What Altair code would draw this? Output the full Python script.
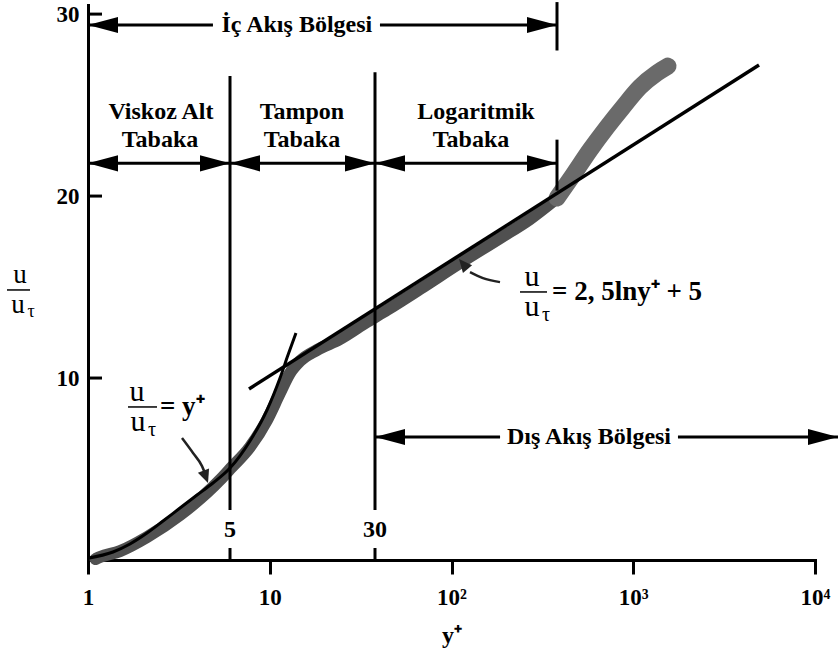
import altair as alt
import pandas as pd

# ---------------- axes ----------------
X_DOMAIN = [1, 10000]
Y_DOMAIN = [0, 30.5]
x_tick_values = [1, 10, 100, 1000, 10000]
x_tick_labels = ['1', '10', '10²', '10³', '10⁴']
y_tick_values = [10, 20, 30]

# ---------------- measured scatter band (y+, u/u_tau) ----------------
band_lo_x = [1.10, 1.164, 1.500, 2.112, 3.208, 5.325, 6.044, 7.786, 9.658, 11.39, 12.92, 14.67,
             18.20, 24.35, 34.29, 44.17, 67.09, 111.4, 184.9, 270.4, 380.6]
band_lo_y = [0.05, 0.16, 0.49, 1.26, 2.47, 4.40, 5.00, 6.21, 7.69, 9.18, 10.27, 10.93,
             11.54, 12.14, 13.08, 13.74, 14.89, 16.32, 17.69, 18.74, 19.89]
band_hi_x = [380.6, 466.1, 578.1, 717.2, 878.2, 1089, 1351, 1553]
band_hi_y = [19.89, 21.15, 22.53, 23.79, 24.89, 25.99, 26.76, 27.14]

# viscous sublayer curve  u/u_tau = y+
lin_x = [1.0, 1.373, 1.702, 2.112, 2.587, 3.208, 3.979, 4.873, 6.044, 7.786, 9.658, 11.39, 12.60, 13.94]
lin_y = [0.10, 0.44, 0.88, 1.48, 2.14, 2.86, 3.57, 4.23, 5.05, 6.54, 8.24, 10.0, 11.26, 12.47]

# log law line  u/u_tau = 2,5 ln y+ + 5
log_x = [7.69, 4920]
log_y = [9.40, 27.2]

# region boundaries (vertical lines)
vline_x = [6.044, 37.94, 380.6, 380.6, 6.044, 37.94]
vline_y1 = [2.75, 2.75, 28.0, 20.3, 0.0, 0.0]
vline_y2 = [26.6, 26.8, 30.66, 23.1, 0.66, 0.66]

# arrow shafts
shaft_x1 = [1, 40.4, 1, 37.94, 1762]
shaft_x2 = [4.87, 380.6, 380.6, 185, 13382]
shaft_y = [29.4, 29.4, 21.8, 6.76, 6.76]

# arrow heads
head_x = [1, 380.6, 1, 6.044, 6.044, 37.94, 37.94, 380.6, 37.94, 13382]
head_y = [29.4, 29.4, 21.8, 21.8, 21.8, 21.8, 21.8, 21.8, 6.76, 6.76]
head_angle = [180, 0, 180, 0, 180, 0, 180, 0, 180, 0]

# region labels
label_text = ['İç Akış Bölgesi', 'Viskoz Alt', 'Tabaka', 'Tampon', 'Tabaka', 'Logaritmik', 'Tabaka',
              'Dış Akış Bölgesi', '5', '30']
label_x = [14.1, 2.52, 2.49, 15.04, 15.04, 136.4, 128.1, 571, 6.044, 37.94]
label_y = [29.4, 24.6, 23.08, 24.6, 23.08, 24.6, 23.08, 6.76, 1.65, 1.65]

# fraction parts u / u_tau
math_text = ['u', 'u', 'τ', 'u', 'u', 'τ', 'u', 'u', 'τ']
math_x = [0.4225, 0.4120, 0.4858, 1.861, 1.884, 2.249, 277.3, 277.3, 331.1]
math_y = [15.66, 14.04, 13.64, 9.24, 7.56, 7.12, 15.55, 13.90, 13.45]
math_size = [27, 27, 18, 30, 30, 20, 30, 30, 20]
fbar_x1 = [0.3583, 1.660, 238.2]
fbar_x2 = [0.4797, 2.397, 335.3]
fbar_y = [14.84, 8.41, 14.73]

eq_text = ['= y⁺', '= 2, 5lny⁺ + 5']
eq_x = [2.489, 357.2]
eq_y = [8.41, 14.73]

# curved pointer arrows
ptr1_x = [3.290, 3.783, 4.240, 4.460]
ptr1_y = [6.70, 5.88, 5.16, 4.62]
ptr2_x = [184.9, 149.0, 126.4]
ptr2_y = [15.27, 15.49, 15.82]
ptr_head_x = [4.574, 110.0]
ptr_head_y = [4.23, 16.54]
ptr_head_angle = [70, 230]

# ---------------- chart ----------------
FONT = 'Liberation Serif'
HEAD_BIG = 'M0,0 L-1,-0.27 L-1,0.27 Z'
HEAD_SMALL = 'M0,0 L-1,-0.45 L-1,0.45 Z'

XS = alt.Scale(type='log', domain=X_DOMAIN, nice=False)
YS = alt.Scale(domain=Y_DOMAIN, nice=False, zero=False)

label_expr = ''.join(f"datum.value == {v} ? '{l}' : " for v, l in zip(x_tick_values, x_tick_labels)) + "''"

x_axis = alt.Axis(values=x_tick_values, labelExpr=label_expr, title='y⁺', grid=False,
                  domainColor='black', domainWidth=3, domainCap='square',
                  tickColor='black', tickWidth=3, tickSize=14,
                  labelFont=FONT, labelFontWeight='bold', labelFontSize=23, labelColor='black',
                  labelPadding=12, labelFlush=False,
                  titleFont=FONT, titleFontWeight='bold', titleFontSize=24, titleColor='black',
                  titlePadding=14)
y_axis = alt.Axis(values=y_tick_values, title=None, grid=False, ticks=False, tickSize=0,
                  domainColor='black', domainWidth=3, domainCap='square',
                  labelFont=FONT, labelFontWeight='bold', labelFontSize=23, labelColor='black',
                  labelPadding=9, labelFlush=False)


def xe(f='x'):
    return alt.X(f + ':Q', scale=XS, axis=x_axis)


def ye(f='y'):
    return alt.Y(f + ':Q', scale=YS, axis=y_axis)


band_lo = alt.Chart(pd.DataFrame({'x': band_lo_x, 'y': band_lo_y})).mark_line(
    color='#505050', strokeWidth=12, strokeCap='round', strokeJoin='round', interpolate='monotone'
).encode(x=xe(), y=ye())
band_hi = alt.Chart(pd.DataFrame({'x': band_hi_x, 'y': band_hi_y})).mark_line(
    color='#6a6a6a', strokeWidth=17, strokeCap='round', strokeJoin='round', interpolate='monotone'
).encode(x=xe(), y=ye())

lin = alt.Chart(pd.DataFrame({'x': lin_x, 'y': lin_y})).mark_line(
    color='black', strokeWidth=3, interpolate='monotone'
).encode(x=xe(), y=ye())

loglaw = alt.Chart(pd.DataFrame({'x': log_x, 'y': log_y})).mark_line(
    color='black', strokeWidth=3.5
).encode(x=xe(), y=ye())

vrules = alt.Chart(pd.DataFrame({'x': vline_x, 'y': vline_y1, 'y2': vline_y2})).mark_rule(
    color='black', strokeWidth=3
).encode(x=xe(), y=ye(), y2='y2:Q')

shafts = alt.Chart(pd.DataFrame({'x': shaft_x1, 'x2': shaft_x2, 'y': shaft_y})).mark_rule(
    color='black', strokeWidth=3
).encode(x=xe(), x2='x2:Q', y=ye())

yticks = alt.Chart(pd.DataFrame({'y': y_tick_values})).mark_rule(
    color='black', strokeWidth=3
).encode(x=alt.value(0), x2=alt.value(14), y=ye())

heads = alt.Chart(pd.DataFrame({'x': head_x, 'y': head_y, 'a': head_angle})).mark_point(
    shape=HEAD_BIG, filled=True, size=3600, color='black', opacity=1, strokeWidth=0
).encode(x=xe(), y=ye(), angle=alt.Angle('a:Q', scale=None))

labels = alt.Chart(pd.DataFrame({'x': label_x, 'y': label_y, 't': label_text})).mark_text(
    font=FONT, fontWeight='bold', fontSize=24, align='center', baseline='middle', color='black'
).encode(x=xe(), y=ye(), text='t:N')

maths = alt.Chart(pd.DataFrame({'x': math_x, 'y': math_y, 't': math_text, 's': math_size})).mark_text(
    font=FONT, align='center', baseline='middle', color='black'
).encode(x=xe(), y=ye(), text='t:N', size=alt.Size('s:Q', scale=None))

fbars = alt.Chart(pd.DataFrame({'x': fbar_x1, 'x2': fbar_x2, 'y': fbar_y})).mark_rule(
    color='black', strokeWidth=1.5
).encode(x=xe(), x2='x2:Q', y=ye())

eqs = alt.Chart(pd.DataFrame({'x': eq_x, 'y': eq_y, 't': eq_text})).mark_text(
    font=FONT, fontWeight='bold', fontSize=27, align='left', baseline='middle', color='black'
).encode(x=xe(), y=ye(), text='t:N')

ptr1 = alt.Chart(pd.DataFrame({'x': ptr1_x, 'y': ptr1_y})).mark_line(
    color='#222', strokeWidth=2.5, interpolate='monotone'
).encode(x=xe(), y=ye())
ptr2 = alt.Chart(pd.DataFrame({'x': ptr2_x, 'y': ptr2_y})).mark_line(
    color='#222', strokeWidth=2.5, interpolate='monotone'
).encode(x=xe(), y=ye())
ptr_heads = alt.Chart(pd.DataFrame({'x': ptr_head_x, 'y': ptr_head_y, 'a': ptr_head_angle})).mark_point(
    shape=HEAD_SMALL, filled=True, size=700, color='#222', opacity=1, strokeWidth=0
).encode(x=xe(), y=ye(), angle=alt.Angle('a:Q', scale=None))

chart = alt.layer(
    band_lo, band_hi, lin, loglaw, vrules, shafts, yticks, heads,
    ptr1, ptr2, ptr_heads, labels, maths, fbars, eqs
).properties(
    width=727, height=555,
    padding={'left': 88, 'top': 5, 'right': 25, 'bottom': 101},
    autosize=alt.AutoSizeParams(type='none'),
    background='white'
).configure_view(stroke=None)

chart.save('out.html', embed_options={'renderer': 'svg', 'actions': False})
